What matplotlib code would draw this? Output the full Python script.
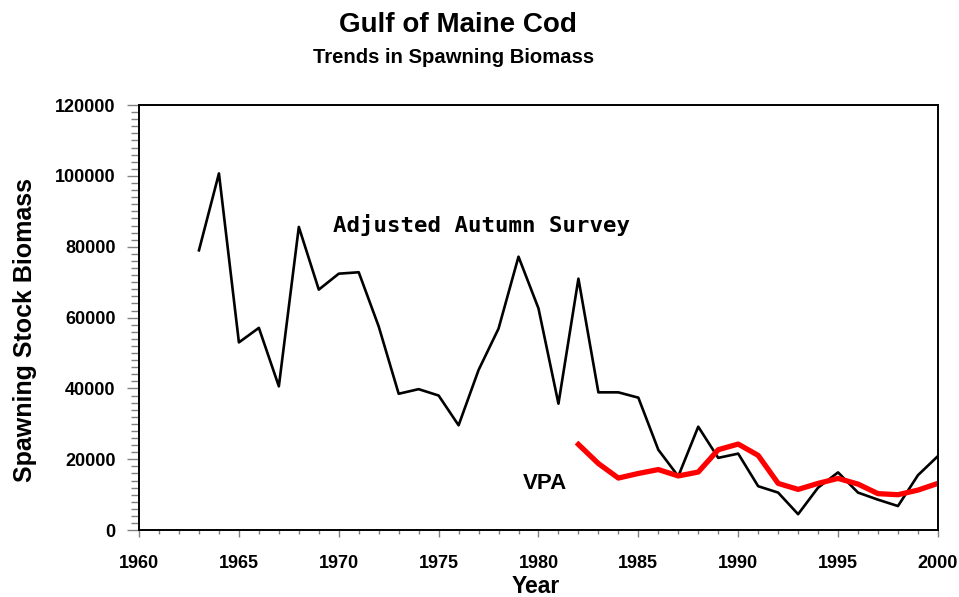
import matplotlib
matplotlib.use("Agg")
import matplotlib.pyplot as plt
from matplotlib.ticker import MultipleLocator

# Adjusted autumn survey, 1963-2000
survey_years = list(range(1963, 2001))
survey_ssb = [79000, 100700, 53000, 57100, 40600, 85600, 67900, 72400, 72800, 57500,
              38500, 39800, 38000, 29600, 45200, 56900, 77200, 62600, 35700, 71000,
              38900, 38900, 37400, 22700, 15200, 29200, 20400, 21600, 12400, 10600,
              4500, 12000, 16300, 10600, 8600, 6800, 15500, 20900]

# VPA, 1982-2000
vpa_years = list(range(1982, 2001))
vpa_ssb = [24200, 18800, 14700, 16000, 17100, 15300, 16400, 22700, 24300, 21100,
           13200, 11500, 13200, 14600, 13000, 10300, 10000, 11300, 13200]

plt.rcParams['font.family'] = ['Liberation Sans', 'DejaVu Sans']
plt.rcParams['font.weight'] = 'bold'

fig = plt.figure(figsize=(9.59, 5.97), dpi=100)
ax = fig.add_axes([0.145, 0.112, 0.833, 0.712])

ax.plot(survey_years, survey_ssb, color='black', linewidth=1.9)
ax.plot(vpa_years, vpa_ssb, color='#ff0000', linewidth=3.8)

ax.set_xlim(1960, 2000)
ax.set_ylim(0, 120000)
ax.xaxis.set_major_locator(MultipleLocator(5))
ax.xaxis.set_minor_locator(MultipleLocator(1))
ax.yaxis.set_major_locator(MultipleLocator(20000))
ax.yaxis.set_minor_locator(MultipleLocator(2000))

ax.tick_params(axis='y', which='major', direction='out', length=9, width=1, color='gray',
               pad=8, labelsize=13)
ax.tick_params(axis='y', which='minor', direction='out', length=6, width=1, color='gray')
ax.tick_params(axis='x', which='major', direction='out', length=5, width=1, color='gray',
               pad=13, labelsize=13)
ax.tick_params(axis='x', which='minor', direction='out', length=3, width=1, color='gray')
for lab in ax.get_xticklabels() + ax.get_yticklabels():
    lab.set_fontweight('bold')

for s in ax.spines.values():
    s.set_linewidth(1.4)

ax.set_xlabel('Year', fontsize=16.5, fontweight='bold', labelpad=0)
ax.set_ylabel('Spawning Stock Biomass', fontsize=18, fontweight='bold')
ax.yaxis.set_label_coords(-0.128, 0.47)
ax.xaxis.set_label_coords(0.497, -0.105)

ax.text(1969.7, 84100, 'Adjusted Autumn Survey', family='DejaVu Sans Mono',
        fontsize=16.1, fontweight='bold', va='baseline', ha='left')
ax.text(1979.2, 11600, 'VPA', fontsize=16, fontweight='bold', va='baseline', ha='left')

fig.text(0.4776, 0.946, 'Gulf of Maine Cod', ha='center', va='baseline',
         fontsize=20, fontweight='bold')
fig.text(0.4734, 0.894, 'Trends in Spawning Biomass', ha='center', va='baseline',
         fontsize=14.6, fontweight='bold')

fig.savefig('out.png', dpi=100)
